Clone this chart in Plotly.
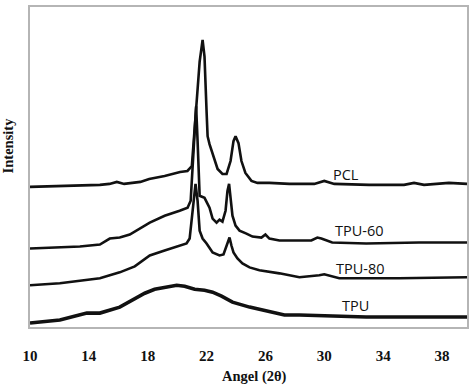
import plotly.graph_objects as go

# XRD patterns (2θ in degrees, intensity in arbitrary units, offset stacked)
pcl_angle = [10.0, 13.4, 14.75, 15.4, 15.9, 16.4, 17.5, 18.1, 19.15, 20.2, 20.7, 21.0, 21.12, 21.32,
             21.53, 21.73, 21.86, 22.0, 22.07, 22.2, 22.41, 22.75, 23.08, 23.36, 23.63, 23.83, 23.97,
             24.17, 24.37, 24.64, 25.05, 25.46, 26.27, 27.63, 29.32, 30.0, 30.68, 33.05, 35.42, 36.1,
             36.78, 38.47, 39.7]
pcl_int = [141, 142, 143, 144, 146, 144, 146, 149, 152, 156, 157, 162, 187, 227, 267, 289, 272, 217,
           192, 184, 175, 159, 154, 154, 167, 187, 192, 185, 167, 155, 147, 145, 145, 144, 144, 147,
           144, 143, 143, 145, 143, 145, 144]

tpu60_angle = [10.0, 12.03, 13.39, 14.75, 15.42, 16.10, 16.78, 18.14, 19.15, 20.17, 20.71, 20.92,
               21.05, 21.19, 21.29, 21.39, 21.46, 21.53, 21.86, 22.20, 22.41, 22.68, 22.88, 23.08,
               23.29, 23.42, 23.53, 23.63, 23.76, 23.97, 24.24, 24.71, 25.12, 25.73, 26.00, 26.27,
               26.95, 28.31, 29.12, 29.53, 29.80, 30.54, 32.85, 36.44, 39.7]
tpu60_int = [79, 80, 81, 83, 89, 90, 93, 105, 112, 117, 120, 127, 157, 197, 222, 187, 147, 132, 130,
             120, 109, 105, 108, 106, 117, 137, 144, 132, 112, 102, 97, 94, 91, 90, 93, 89, 87, 87,
             87, 90, 89, 85, 84, 85, 85]

tpu80_angle = [10.0, 12.03, 14.75, 16.10, 17.12, 18.14, 19.15, 20.17, 20.64, 20.85, 20.98, 21.12,
               21.25, 21.39, 21.53, 21.73, 22.00, 22.41, 22.88, 23.15, 23.36, 23.56, 23.69, 23.83,
               24.10, 24.44, 24.92, 25.59, 26.95, 28.31, 29.66, 30.00, 31.02, 35.08, 39.7]
tpu80_int = [42, 44, 49, 55, 61, 72, 77, 82, 84, 89, 107, 132, 144, 127, 97, 89, 84, 75, 72, 73, 82,
             90, 82, 75, 69, 64, 60, 57, 54, 50, 52, 53, 49, 49, 50]

tpu_angle = [10.0, 12.03, 13.86, 14.75, 16.10, 16.98, 17.80, 18.47, 19.29, 19.97, 20.51, 21.19,
             21.86, 22.41, 23.02, 23.76, 24.92, 26.07, 27.29, 28.31, 32.85, 36.44, 39.7]
tpu_int = [4, 7, 14, 14, 20, 27, 34, 38, 40, 42, 41, 38, 37, 35, 31, 25, 20, 16, 12, 12, 10, 10, 10]

x_ticks = [10, 14, 18, 22, 26, 30, 34, 38]

series = [
    ("PCL", pcl_angle, pcl_int, 2.6),
    ("TPU-60", tpu60_angle, tpu60_int, 2.6),
    ("TPU-80", tpu80_angle, tpu80_int, 2.6),
    ("TPU", tpu_angle, tpu_int, 3.6),
]

fig = go.Figure()
for name, xs, ys, w in series:
    fig.add_trace(go.Scatter(x=xs, y=ys, mode="lines", name=name,
                             line=dict(color="#111111", width=w), showlegend=False))

label_pos = {"PCL": (0.724, 0.478), "TPU-60": (0.753, 0.301),
             "TPU-80": (0.756, 0.183), "TPU": (0.745, 0.068)}
for name, (lx, ly) in label_pos.items():
    fig.add_annotation(text=name, xref="paper", yref="paper", x=lx, y=ly,
                       showarrow=False, xanchor="center", yanchor="middle",
                       font=dict(family="Open Sans", size=14.5, color="#111111"))

fig.add_annotation(text="<b>Intensity</b>", xref="paper", yref="paper", x=-0.050, y=0.568,
                   textangle=-90, showarrow=False, xanchor="center", yanchor="middle",
                   font=dict(family="Liberation Serif", size=14.5, color="#111111"))
fig.add_annotation(text="<b>Angel (2θ)</b>", xref="paper", yref="paper", x=0.514, y=-0.155,
                   showarrow=False, xanchor="center", yanchor="middle",
                   font=dict(family="Liberation Serif", size=14.5, color="#111111"))

fig.update_layout(
    width=474, height=391,
    margin=dict(l=30, r=6, t=5, b=64),
    paper_bgcolor="white", plot_bgcolor="white",
    xaxis=dict(range=[10, 39.7], tickvals=x_ticks, ticks="", showgrid=False, zeroline=False,
               showline=True, mirror=True, linecolor="#b5b5b5", linewidth=1.5,
               ticklabelstandoff=14,
               tickfont=dict(family="Liberation Serif", size=15, color="#111111", weight="bold")),
    yaxis=dict(range=[0, 322], showticklabels=False, ticks="", showgrid=False, zeroline=False,
               showline=True, mirror=True, linecolor="#b5b5b5", linewidth=1.5),
)

fig.write_html("out.html", config={"displayModeBar": False},
               post_script="document.body.style.margin='0';document.body.style.overflow='hidden';")
